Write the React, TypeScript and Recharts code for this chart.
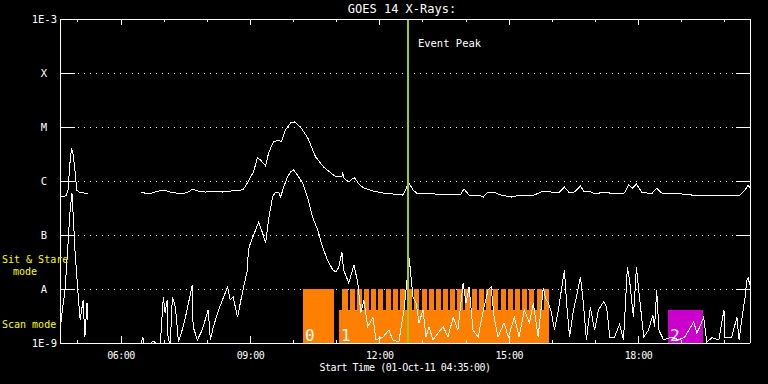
import React from 'react';
import {
  ComposedChart, Line, XAxis, YAxis, CartesianGrid, ReferenceArea, ReferenceLine,
} from 'recharts';

// ---------- data ----------
type Pt = [number, number | null];

// GOES 14 long-wave channel (hours UT, W/m^2)
const longWave: Pt[] = [
  [4.58, 5.1e-7], [4.72, 5.3e-7], [4.77, 6.8e-7], [4.81, 2.0e-6], [4.85, 4.0e-6], [4.88, 3.4e-6],
  [4.93, 1.6e-6], [4.97, 6.8e-7], [5.05, 6.0e-7], [5.14, 6.0e-7], [5.22, 5.75e-7], [5.3, null],
  [6.47, 6.2e-7], [6.63, 5.75e-7], [6.79, 6.25e-7], [6.98, 6.8e-7], [7.14, 6.25e-7], [7.28, 6.0e-7],
  [7.42, 5.75e-7], [7.56, 6.25e-7], [7.65, 7.1e-7], [7.79, 6.5e-7], [7.95, 6.25e-7], [8.14, 6.3e-7],
  [8.35, 6.25e-7], [8.6, 6.6e-7], [8.77, 6.8e-7], [8.84, 7.1e-7], [8.93, 9.2e-7], [9.0, 1.19e-6],
  [9.07, 1.47e-6], [9.16, 2.67e-6], [9.23, 2.45e-6], [9.35, 1.9e-6], [9.42, 3.3e-6], [9.53, 5.3e-6],
  [9.65, 5.7e-6], [9.72, 5.3e-6], [9.81, 8.8e-6], [9.93, 1.19e-5], [10.02, 1.24e-5], [10.16, 1.0e-5],
  [10.33, 6.25e-6], [10.51, 2.8e-6], [10.7, 1.8e-6], [10.98, 1.19e-6], [11.12, 1.19e-6], [11.14, 1.47e-6],
  [11.16, 1.14e-6], [11.28, 9.6e-7], [11.35, 1.09e-6], [11.42, 1.14e-6], [11.51, 8.8e-7], [11.63, 7.4e-7],
  [11.84, 6.5e-7], [12.07, 6.0e-7], [12.3, 5.75e-7], [12.53, 5.5e-7], [12.6, 6.8e-7], [12.66, 9.6e-7],
  [12.77, 6.8e-7], [12.88, 5.75e-7], [13.07, 5.75e-7], [13.26, 5.75e-7], [13.65, 5.5e-7], [13.88, 5.75e-7],
  [13.95, 7.1e-7], [14.07, 5.5e-7], [14.28, 5.5e-7], [14.4, 5.05e-7], [14.51, 6.25e-7], [14.63, 6.25e-7],
  [14.81, 5.5e-7], [15.05, 5.05e-7], [15.28, 5.5e-7], [15.58, 5.5e-7], [15.79, 6.5e-7], [15.98, 6.25e-7],
  [16.14, 6.0e-7], [16.28, 7.7e-7], [16.4, 6.0e-7], [16.51, 6.25e-7], [16.65, 8.1e-7], [16.74, 6.25e-7],
  [16.86, 6.5e-7], [16.98, 5.75e-7], [17.21, 6.25e-7], [17.44, 5.75e-7], [17.67, 6.0e-7], [17.77, 8.4e-7],
  [17.86, 7.4e-7], [17.95, 8.8e-7], [18.07, 6.25e-7], [18.3, 5.75e-7], [18.42, 7.4e-7], [18.53, 6.0e-7],
  [18.77, 5.75e-7], [19.0, 5.75e-7], [19.23, 5.5e-7], [19.63, 5.5e-7], [19.93, 5.5e-7], [20.35, 5.5e-7],
  [20.47, 6.8e-7], [20.54, 8.4e-7], [20.58, 7.4e-7],
];

// GOES 14 short-wave channel (hours UT, W/m^2)
const shortWave: Pt[] = [
  [4.58, 1.53e-9], [4.63, 3.6e-9], [4.7, 9.6e-9], [4.77, 7.1e-8], [4.81, 2.35e-7], [4.86, 6.0e-7],
  [4.88, 3.3e-7], [4.93, 5.3e-8], [5.0, 8.4e-9], [5.05, 2.67e-9], [5.12, 6.25e-9], [5.16, 1.29e-9],
  [5.21, 5.5e-9], [5.23, 2.67e-9], [5.3, null],
  [6.47, 1.0e-9], [6.5, 1.3e-9], [6.53, 1.0e-9], [6.7, 1.0e-9], [6.74, 1.1e-9], [6.8, 1.0e-9], [6.91, 1.0e-9],
  [6.98, 7.1e-9], [7.02, 3.6e-9], [7.07, 6.25e-9], [7.09, 1.14e-9], [7.14, 1.0e-9], [7.19, 7.1e-9],
  [7.26, 4.6e-9], [7.33, 1.05e-9], [7.44, 2.0e-9], [7.53, 4.1e-9], [7.65, 1.19e-8], [7.67, 2.0e-9],
  [7.77, 1.14e-9], [7.88, 1.74e-9], [8.02, 4.1e-9], [8.07, 1.14e-9], [8.14, 2.0e-9], [8.26, 4.1e-9],
  [8.35, 6.25e-9], [8.47, 1.09e-8], [8.53, 6.25e-9], [8.6, 7.1e-9], [8.65, 4.6e-9], [8.7, 3.0e-9],
  [8.77, 5.8e-9], [8.84, 1.09e-8], [8.93, 2.25e-8], [8.95, 5.3e-8], [9.0, 7.1e-8], [9.12, 1.24e-7],
  [9.19, 1.74e-7], [9.28, 1.09e-7], [9.35, 7.1e-8], [9.42, 1.9e-7], [9.51, 5.05e-7], [9.58, 6.25e-7],
  [9.65, 6.25e-7], [9.7, 5.05e-7], [9.77, 7.7e-7], [9.86, 1.19e-6], [9.93, 1.47e-6], [10.0, 1.6e-6],
  [10.09, 1.29e-6], [10.21, 9.2e-7], [10.33, 4.8e-7], [10.44, 2.15e-7], [10.56, 1.24e-7], [10.67, 6.0e-8],
  [10.79, 3.4e-8], [10.91, 2.25e-8], [10.98, 2.07e-8], [11.05, 2.55e-8], [11.12, 4.8e-8], [11.16, 2.25e-8],
  [11.28, 1.29e-8], [11.4, 2.78e-8], [11.49, 1.29e-8], [11.56, 3.6e-9], [11.63, 6.25e-9], [11.72, 2.0e-9],
  [11.84, 3.0e-9], [11.91, 1.14e-9], [12.07, 1.29e-9], [12.21, 1.74e-9], [12.3, 1.14e-9], [12.44, 1.05e-9],
  [12.56, 4.1e-9], [12.63, 1.47e-8], [12.68, 3.75e-8], [12.77, 7.1e-9], [12.84, 5.5e-9], [12.91, 2.35e-9],
  [13.0, 4.1e-9], [13.07, 1.29e-9], [13.14, 2.0e-9], [13.23, 1.14e-9], [13.35, 1.53e-9], [13.47, 2.0e-9],
  [13.58, 1.29e-9], [13.7, 3.0e-9], [13.81, 1.74e-9], [13.93, 1.29e-8], [14.0, 5.5e-9], [14.07, 1.09e-8],
  [14.16, 1.74e-9], [14.28, 1.29e-9], [14.4, 4.1e-9], [14.51, 9.6e-9], [14.58, 1.09e-8], [14.65, 3.0e-9],
  [14.74, 1.29e-9], [14.88, 2.35e-9], [14.98, 1.29e-9], [15.12, 3.0e-9], [15.23, 1.29e-9], [15.35, 4.1e-9],
  [15.47, 2.35e-9], [15.56, 5.5e-9], [15.67, 1.29e-9], [15.79, 1.05e-8], [15.84, 6.8e-9], [15.91, 5.5e-9],
  [15.98, 3.6e-9], [16.05, 1.74e-9], [16.14, 4.1e-9], [16.28, 2.25e-8], [16.33, 5.5e-9], [16.4, 1.29e-9],
  [16.49, 4.1e-9], [16.56, 7.1e-9], [16.65, 1.67e-8], [16.72, 5.5e-9], [16.79, 1.14e-9], [16.88, 4.6e-9],
  [16.98, 1.74e-9], [17.07, 4.1e-9], [17.19, 5.8e-9], [17.26, 4.6e-9], [17.33, 1.29e-9], [17.44, 1.29e-9],
  [17.56, 2.2e-9], [17.65, 1.14e-9], [17.74, 2.55e-8], [17.79, 1.47e-8], [17.88, 3.0e-9], [17.95, 2.55e-8],
  [18.02, 7.1e-9], [18.12, 1.29e-9], [18.23, 1.74e-9], [18.33, 3.3e-9], [18.37, 2.0e-9], [18.42, 9.6e-9],
  [18.47, 1.74e-9], [18.58, 1.14e-9], [18.77, 1.29e-9], [18.93, 1.14e-9], [19.07, 1.29e-9], [19.28, 2.45e-9],
  [19.35, 1.53e-9], [19.42, 2.0e-9], [19.51, 3.0e-9], [19.58, 1.05e-9], [19.7, 1.25e-9], [19.86, 1.14e-9],
  [19.98, 4.1e-9], [20.0, 1.29e-9], [20.16, 1.29e-9], [20.28, 3.0e-9], [20.33, 1.14e-9], [20.4, 3.0e-9],
  [20.47, 7.1e-9], [20.51, 1.47e-8], [20.54, 1.6e-8], [20.58, 1.19e-8],
];

// axis
const timeDomain: [number, number] = [4.5833, 20.5833];
const hourTicks = [5, 6, 7, 8, 9, 10, 11, 12, 13, 14, 15, 16, 17, 18, 19, 20];
const labeledHours = [6, 9, 12, 15, 18];
const fluxTicks = [1e-9, 1e-8, 1e-7, 1e-6, 1e-5, 1e-4, 1e-3];
const fluxLabels = ['1E-9', 'A', 'B', 'C', 'M', 'X', '1E-3'];

// event peak
const eventPeakTime = '12:39';
const eventPeakLabel = 'Event Peak';

// observing blocks
const blockIds = ['0', '1', '2'];
const blockStarts = ['10:13', '11:03', '18:41'];
const blockEnds = ['10:56', '15:55', '19:29'];
const blockTops = [1e-8, 4.1e-9, 4.1e-9];
const blockModes = ['scan', 'scan', 'other'];

// sit & stare dwell starts within block 1 (each 7 min long)
const dwellStarts = [
  '11:08', '11:18', '11:28', '11:38', '11:48', '11:58', '12:08', '12:18', '12:28', '12:38',
  '12:48', '12:58', '13:08', '13:18', '13:28', '13:38', '13:48', '13:58', '14:08', '14:18',
  '14:28', '14:38', '14:48', '14:58', '15:08', '15:18', '15:28', '15:38', '15:48',
];
const dwellMinutes = 7;
const dwellBottom = 4.1e-9;
const dwellTop = 1e-8;

const titleText = 'GOES 14 X-Rays:';
const startTimeText = 'Start Time (01-Oct-11 04:35:00)';

// ---------- helpers ----------
const hm = (s: string) => {
  const [h, m] = s.split(':').map(Number);
  return h + m / 60;
};
const toRows = (pts: Pt[]) => pts.map(([t, v]) => ({ t, v }));
const longRows = toRows(longWave);
const shortRows = toRows(shortWave);

const FONT = "'DejaVu Sans Mono', monospace";
const WHITE = '#ffffff';
const modeColor: Record<string, string> = { scan: '#ff8000', other: '#cc00cc' };

const BottomTick = (props: any) => {
  const { x, y, payload } = props;
  const h = payload.value;
  const major = labeledHours.includes(h);
  return (
    <g>
      <line x1={x} x2={x} y1={y} y2={y - (major ? 7 : 3)} stroke={WHITE} shapeRendering="crispEdges" />
      {major && (
        <text x={x} y={y + 16} textAnchor="middle" fill={WHITE} fontSize={10} fontFamily={FONT} letterSpacing={-0.5}>
          {String(h).padStart(2, '0') + ':00'}
        </text>
      )}
    </g>
  );
};

const TopTick = (props: any) => {
  const { x, y, payload } = props;
  const major = labeledHours.includes(payload.value);
  return <line x1={x} x2={x} y1={y} y2={y + (major ? 6 : 3)} stroke={WHITE} shapeRendering="crispEdges" />;
};

const LeftTick = (props: any) => {
  const { x, y, payload } = props;
  const idx = fluxTicks.findIndex((v) => Math.abs(Math.log10(v) - Math.log10(payload.value)) < 1e-6);
  const label = fluxLabels[idx] ?? '';
  const isNum = label.length > 1;
  return (
    <g>
      <line x1={x} x2={x + 15} y1={y} y2={y} stroke={WHITE} shapeRendering="crispEdges" />
      <text
        x={isNum ? x - 3 : x - 16}
        y={y + 4}
        textAnchor={isNum ? 'end' : 'middle'}
        fill={WHITE}
        fontSize={10.5}
        fontFamily={FONT}
      >
        {label}
      </text>
    </g>
  );
};

const RightTick = (props: any) => {
  const { x, y } = props;
  return <line x1={x - 14} x2={x} y1={y} y2={y} stroke={WHITE} shapeRendering="crispEdges" />;
};

const EventLabel = (props: any) => {
  const vb = props.viewBox || { x: 0, y: 0 };
  return (
    <text x={vb.x + 10} y={vb.y + 28} fill={WHITE} fontSize={10.5} fontFamily={FONT}>
      {eventPeakLabel}
    </text>
  );
};

export default function App() {
  return (
    <div style={{ position: 'absolute', left: 0, top: 0, width: 768, height: 384, background: '#000', overflow: 'hidden' }}>
      <ComposedChart width={768} height={384} margin={{ top: 0, right: 0, bottom: 0, left: 0 }}>
        <CartesianGrid
          horizontal
          vertical={false}
          stroke={WHITE}
          strokeDasharray="1 5"
          shapeRendering="crispEdges"
        />
        <XAxis
          dataKey="t"
          type="number"
          domain={timeDomain}
          allowDataOverflow
          ticks={hourTicks}
          interval={0}
          height={41}
          tickSize={0}
          tickMargin={0}
          tickLine={false}
          axisLine={{ stroke: WHITE, shapeRendering: 'crispEdges' }}
          tick={<BottomTick />}
        />
        <XAxis
          xAxisId="top"
          orientation="top"
          dataKey="t"
          type="number"
          domain={timeDomain}
          allowDataOverflow
          ticks={hourTicks}
          interval={0}
          height={19}
          tickSize={0}
          tickMargin={0}
          tickLine={false}
          axisLine={{ stroke: WHITE, shapeRendering: 'crispEdges' }}
          tick={<TopTick />}
        />
        <YAxis
          type="number"
          scale="log"
          domain={[1e-9, 1e-3]}
          allowDataOverflow
          ticks={fluxTicks}
          interval={0}
          width={60}
          tickSize={0}
          tickMargin={0}
          tickLine={false}
          axisLine={{ stroke: WHITE, shapeRendering: 'crispEdges' }}
          tick={<LeftTick />}
        />
        <YAxis
          yAxisId="r"
          orientation="right"
          type="number"
          scale="log"
          domain={[1e-9, 1e-3]}
          allowDataOverflow
          ticks={fluxTicks}
          interval={0}
          width={18}
          tickSize={0}
          tickMargin={0}
          tickLine={false}
          axisLine={{ stroke: WHITE, shapeRendering: 'crispEdges' }}
          tick={<RightTick />}
        />

        {blockIds.map((id, i) => (
          <ReferenceArea
            key={'b' + id}
            x1={hm(blockStarts[i])}
            x2={hm(blockEnds[i])}
            y1={1e-9}
            y2={blockTops[i]}
            fill={modeColor[blockModes[i]]}
            fillOpacity={1}
            stroke="none"
            shapeRendering="crispEdges"
            ifOverflow="visible"
            label={{ value: id, position: 'insideBottomLeft', offset: 2, fill: WHITE, fontSize: 16, fontFamily: FONT }}
          />
        ))}
        {dwellStarts.map((s) => (
          <ReferenceArea
            key={'d' + s}
            x1={hm(s)}
            x2={hm(s) + dwellMinutes / 60}
            y1={dwellBottom}
            y2={dwellTop}
            fill={modeColor.scan}
            fillOpacity={1}
            stroke="none"
            shapeRendering="crispEdges"
            ifOverflow="visible"
          />
        ))}

        <Line
          data={longRows}
          dataKey="v"
          type="linear"
          stroke={WHITE}
          strokeWidth={1}
          shapeRendering="crispEdges"
          dot={false}
          activeDot={false}
          connectNulls={false}
          isAnimationActive={false}
        />
        <Line
          data={shortRows}
          dataKey="v"
          type="linear"
          stroke={WHITE}
          strokeWidth={1}
          shapeRendering="crispEdges"
          dot={false}
          activeDot={false}
          connectNulls={false}
          isAnimationActive={false}
        />

        <ReferenceLine
          x={hm(eventPeakTime)}
          stroke="#9ccc14"
          strokeWidth={2}
          shapeRendering="crispEdges"
          ifOverflow="visible"
          label={<EventLabel />}
        />
      </ComposedChart>

      <svg width={768} height={384} style={{ position: 'absolute', left: 0, top: 0, pointerEvents: 'none' }}>
        <text x={402} y={13} textAnchor="middle" fill={WHITE} fontSize={12} fontFamily={FONT}>
          {titleText}
        </text>
        <text x={2} y={263} fill="#ffff00" fontSize={10} fontFamily={FONT}>Sit &amp; Stare</text>
        <text x={13} y={275} fill="#ffff00" fontSize={10} fontFamily={FONT}>mode</text>
        <text x={2} y={328} fill="#ffff00" fontSize={10} fontFamily={FONT}>Scan mode</text>
        <text x={405} y={371} textAnchor="middle" fill={WHITE} fontSize={10} fontFamily={FONT} letterSpacing={-0.5}>
          {startTimeText}
        </text>
      </svg>
    </div>
  );
}
